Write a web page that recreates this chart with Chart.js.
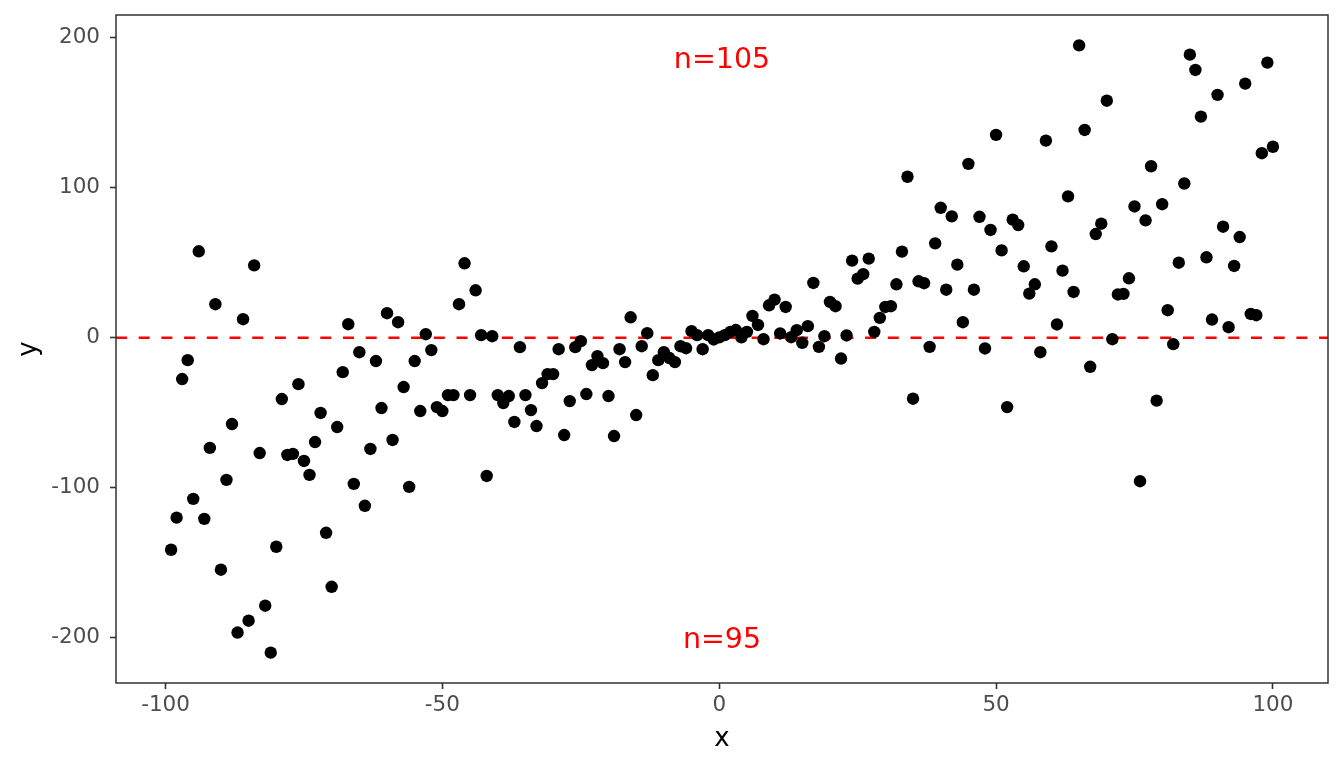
<!DOCTYPE html>
<html><head><meta charset="utf-8">
<script src="https://cdn.jsdelivr.net/npm/chart.js@4.4.1/dist/chart.umd.min.js"></script>
<style>html,body{margin:0;padding:0;background:#fff;overflow:hidden}canvas{display:block}</style>
</head><body>
<canvas id="c" width="1344" height="768"></canvas>
<script>
const xValues = [
 -99,-98,-97,-96,-95,-94,-93,-92,-91,-90,-89,-88,-87,-86,-85,-84,-83,-82,-81,-80,
 -79,-78,-77,-76,-75,-74,-73,-72,-71,-70,-69,-68,-67,-66,-65,-64,-63,-62,-61,-60,
 -59,-58,-57,-56,-55,-54,-53,-52,-51,-50,-49,-48,-47,-46,-45,-44,-43,-42,-41,-40,
 -39,-38,-37,-36,-35,-34,-33,-32,-31,-30,-29,-28,-27,-26,-25,-24,-23,-22,-21,-20,
 -19,-18,-17,-16,-15,-14,-13,-12,-11,-10,-9,-8,-7,-6,-5,-4,-3,-2,-1,0,
 1,2,3,4,5,6,7,8,9,10,11,12,13,14,15,16,17,18,19,20,
 21,22,23,24,25,26,27,28,29,30,31,32,33,34,35,36,37,38,39,40,
 41,42,43,44,45,46,47,48,49,50,51,52,53,54,55,56,57,58,59,60,
 61,62,63,64,65,66,67,68,69,70,71,72,73,74,75,76,77,78,79,80,
 81,82,83,84,85,86,87,88,89,90,91,92,93,94,95,96,97,98,99,100
];
const yValues = [
 -141.4,-120,-27.6,-15,-107.5,57.6,-120.8,-73.5,22.3,-154.7,-94.8,-57.6,-196.6,12.3,-188.7,48.2,-76.9,-178.7,-210,-139.4,
 -40.9,-78.2,-77.5,-31,-82.2,-91.5,-69.6,-50.2,-130.1,-166.1,-59.6,-23,9,-97.5,-9.7,-112.1,-74.2,-15.6,-46.9,16.3,
 -68.2,10.3,-32.9,-99.5,-15.6,-48.9,2.3,-8.3,-46.3,-48.9,-38.3,-38.3,22.3,49.6,-38.3,31.6,1.7,-92.2,1.0,-38.3,
 -43.6,-38.9,-56.2,-6.3,-38.3,-48.3,-58.9,-30.3,-24.3,-24.3,-7.7,-64.9,-42.3,-6.3,-2.3,-37.6,-18.3,-12.3,-17,-38.9,
 -65.6,-7.7,-16.3,13.6,-51.6,-5.7,3,-25,-15,-9.7,-13.6,-16.3,-5.7,-7,4.3,1.7,-7.7,1.7,-1.2,0.2,
 1.7,3.9,5.1,0.2,3.9,14.5,8.5,-1,21.6,25.4,2.8,20.5,0.3,5,-3.4,7.7,36.5,-6.1,1,23.8,
 21,-13.9,1.5,51.4,39.4,42.3,52.7,3.9,13.2,20.5,21,35.6,57.4,107.3,-40.7,37.6,36.3,-6.1,62.9,86.6,
 32,80.9,48.7,10.3,115.9,32,80.6,-7.2,71.8,135.2,58.2,-46.3,78.7,75.1,47.6,29.4,35.6,-9.7,131.4,60.9,
 8.8,44.7,94.2,30.5,194.9,138.5,-19.4,69.1,76,158,-1,28.8,29.2,39.6,87.5,-95.7,78.2,114.3,-42,89,
 18.3,-4.3,50,102.8,188.7,178.5,147.4,53.6,12.1,161.9,74,7,47.8,67.1,169.4,15.8,15,123,183.4,127.3
];
const xTicks = [-100, -50, 0, 50, 100];
const yTicks = [-200, -100, 0, 100, 200];
const refLineY = 0;
const labelTexts = ['n=105', 'n=95'];
const labelX = [0.5, 0.5];
const labelY = [185, -202];

const FONT = 'DejaVu Sans';
function expand(a) {
  const mn = Math.min(...a), mx = Math.max(...a), d = (mx - mn) * 0.05;
  return [mn - d, mx + d];
}
const [xMin, xMax] = expand(xValues);
const [yMin, yMax] = expand(yValues);

const decor = {
  id: 'decor',
  beforeDatasetsDraw(chart) {
    const {ctx, chartArea: a, scales} = chart;
    const y0 = scales.y.getPixelForValue(refLineY);
    ctx.save();
    ctx.beginPath();
    ctx.rect(a.left, a.top, a.right - a.left, a.bottom - a.top);
    ctx.clip();
    ctx.strokeStyle = '#FF0000';
    ctx.lineWidth = 2.5;
    ctx.setLineDash([11, 11.7]);
    ctx.beginPath();
    ctx.moveTo(a.left, y0);
    ctx.lineTo(a.right, y0);
    ctx.stroke();
    ctx.restore();
  },
  afterDatasetsDraw(chart) {
    const {ctx, scales} = chart;
    ctx.save();
    ctx.fillStyle = '#FF0000';
    ctx.font = '28.5px "' + FONT + '"';
    ctx.textAlign = 'center';
    ctx.textBaseline = 'middle';
    labelTexts.forEach((t, i) => {
      ctx.fillText(t, scales.x.getPixelForValue(labelX[i]), scales.y.getPixelForValue(labelY[i]));
    });
    ctx.restore();
  },
  afterDraw(chart) {
    const {ctx, chartArea: a} = chart;
    ctx.save();
    ctx.strokeStyle = '#333333';
    ctx.lineWidth = 1.5;
    ctx.strokeRect(a.left, a.top, a.right - a.left, a.bottom - a.top);
    ctx.restore();
  }
};

new Chart(document.getElementById('c'), {
  type: 'scatter',
  data: {
    datasets: [{
      data: xValues.map((x, i) => ({x: x, y: yValues[i]})),
      backgroundColor: '#000000',
      borderWidth: 0,
      pointRadius: 6.2,
      pointHoverRadius: 6.2
    }]
  },
  options: {
    responsive: false,
    animation: false,
    devicePixelRatio: 1,
    events: [],
    layout: {padding: {top: 15, right: 16, left: 0, bottom: 0}},
    plugins: {legend: {display: false}, tooltip: {enabled: false}},
    scales: {
      x: {
        type: 'linear', min: xMin, max: xMax,
        afterBuildTicks: s => { s.ticks = xTicks.map(v => ({value: v})); },
        afterFit: s => { s.height = 85; s.paddingLeft = 0; s.paddingRight = 0; },
        grid: {drawOnChartArea: false, drawTicks: true, tickLength: 6, tickWidth: 1.6, tickColor: '#333333'},
        border: {display: false},
        ticks: {font: {family: FONT, size: 21.5}, color: '#4D4D4D', padding: 4, maxRotation: 0, autoSkip: false, callback: v => String(v)},
        title: {display: true, text: 'x', font: {family: FONT, size: 26}, color: '#000000', padding: {top: 0, bottom: 13}}
      },
      y: {
        type: 'linear', min: yMin, max: yMax,
        afterBuildTicks: s => { s.ticks = yTicks.map(v => ({value: v})); },
        afterFit: s => { s.width = 116; s.paddingTop = 0; s.paddingBottom = 0; },
        grid: {drawOnChartArea: false, drawTicks: true, tickLength: 6, tickWidth: 1.6, tickColor: '#333333'},
        border: {display: false},
        ticks: {font: {family: FONT, size: 21.5}, color: '#4D4D4D', padding: 10, autoSkip: false, callback: v => String(v)},
        title: {display: true, text: 'y', font: {family: FONT, size: 26}, color: '#000000', padding: {top: 14, bottom: 0}}
      }
    }
  },
  plugins: [decor]
});
</script>
</body></html>
